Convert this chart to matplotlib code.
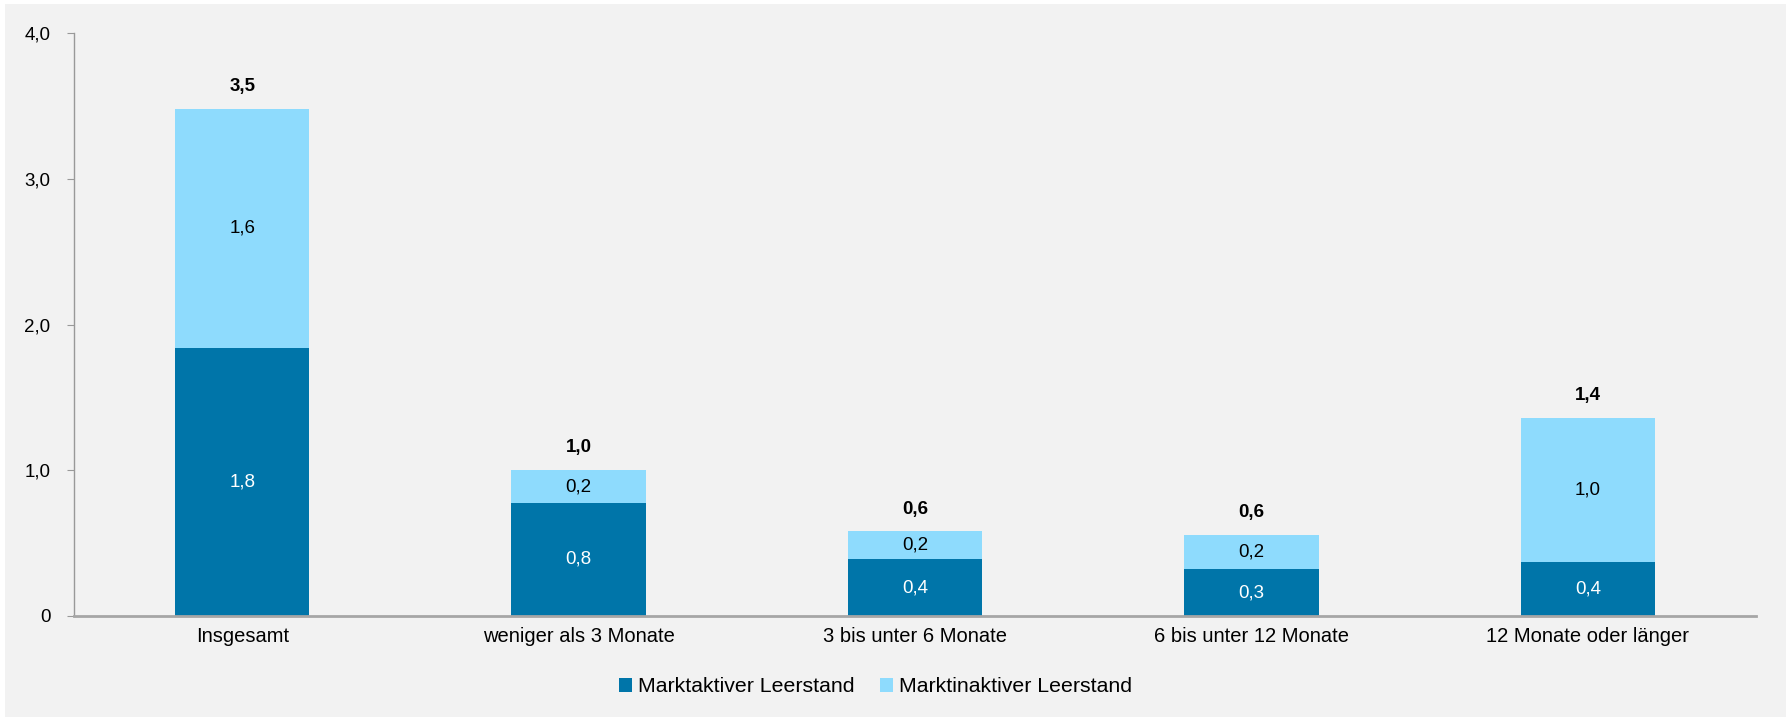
import matplotlib
matplotlib.use("Agg")
import matplotlib.pyplot as plt
from matplotlib.patches import Rectangle
import numpy as np

plt.rcParams['font.family'] = ['Liberation Sans', 'DejaVu Sans']

categories = ["Insgesamt", "weniger als 3 Monate", "3 bis unter 6 Monate",
              "6 bis unter 12 Monate", "12 Monate oder länger"]
marktaktiv = [1.84, 0.776, 0.39, 0.32, 0.37]
marktinaktiv = [1.64, 0.224, 0.19, 0.235, 0.99]
series_names = ["Marktaktiver Leerstand", "Marktinaktiver Leerstand"]
yticks = [0, 1, 2, 3, 4]
ytick_labels = ["0", "1,0", "2,0", "3,0", "4,0"]

dark = "#0075A9"
light = "#8EDBFD"
bg = "#F2F2F2"


def fmt(v):
    return f"{v:.1f}".replace(".", ",")


fig = plt.figure(figsize=(17.92, 7.17), dpi=100, facecolor="white")
fig.patches.append(Rectangle((5 / 1792, 0), 1781 / 1792, 713 / 717,
                             transform=fig.transFigure, facecolor=bg,
                             edgecolor="none", zorder=-10))
ax = fig.add_axes([74 / 1792, 101 / 717, 1682 / 1792, 583 / 717])
ax.set_facecolor(bg)

x = np.arange(len(categories))
w = 0.40
b1 = ax.bar(x, marktaktiv, w, color=dark, label=series_names[0], zorder=2)
b2 = ax.bar(x, marktinaktiv, w, bottom=marktaktiv, color=light,
            label=series_names[1], zorder=2)

for i in range(len(x)):
    a, b = marktaktiv[i], marktinaktiv[i]
    ax.text(x[i], a / 2, fmt(a), ha="center", va="center", color="white",
            fontsize=13.5)
    ax.text(x[i], a + b / 2, fmt(b), ha="center", va="center", color="black",
            fontsize=13.5)
    ax.annotate(fmt(a + b), (x[i], a + b), xytext=(0, 10),
                textcoords="offset points", ha="center", va="bottom",
                fontsize=13.5, fontweight="bold")

ax.set_xlim(-0.5, len(x) - 0.5)
ax.set_ylim(0, 4)
ax.set_yticks(yticks)
ax.set_yticklabels(ytick_labels, fontsize=13.5)
ax.set_xticks(x)
ax.set_xticklabels(categories, fontsize=14.5)
ax.tick_params(axis="x", length=0, pad=8)
ax.tick_params(axis="y", length=5, color="#999999", pad=12)

for s in ["top", "right"]:
    ax.spines[s].set_visible(False)
ax.spines["left"].set_color("#999999")
ax.spines["left"].set_linewidth(1)
ax.spines["bottom"].set_color("#A6A6A6")
ax.spines["bottom"].set_linewidth(2)

leg = fig.legend(handles=[b1, b2], loc="center",
                 bbox_to_anchor=(766 / 1568, 30 / 717),
                 ncol=2, frameon=False, fontsize=15.3, handlelength=0.6,
                 handleheight=0.6, handletextpad=0.3, columnspacing=1.2)

fig.savefig("out.png", dpi=100, facecolor="white")
